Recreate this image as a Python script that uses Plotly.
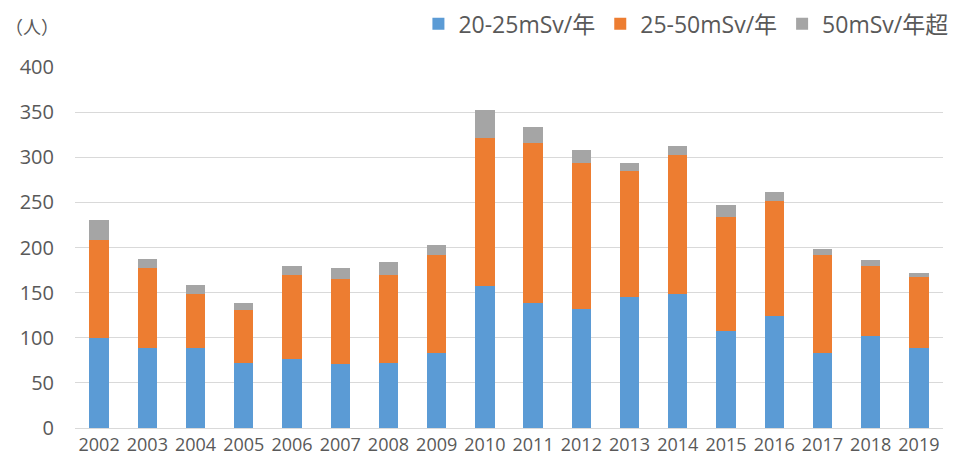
import plotly.graph_objects as go

years = [str(y) for y in range(2002, 2020)]
dose_20_25 = [100, 89, 89, 72, 77, 71, 72, 83, 157, 139, 132, 145, 148, 107, 124, 83, 102, 89]
dose_25_50 = [108, 88, 60, 59, 92, 94, 97, 109, 164, 177, 162, 140, 155, 127, 127, 109, 77, 78]
dose_over_50 = [22, 10, 10, 8, 10, 12, 15, 11, 31, 17, 14, 9, 10, 13, 10, 6, 7, 5]

series_names = ["20-25mSv/年", "25-50mSv/年", "50mSv/年超"]
series_colors = ["#5B9BD5", "#ED7D31", "#A5A5A5"]
y_ticks = [0, 50, 100, 150, 200, 250, 300, 350, 400]

FONT = "Open Sans, Noto Sans CJK JP, sans-serif"
TEXT = "#595959"

fig = go.Figure()
for name, vals, color in zip(series_names, [dose_20_25, dose_25_50, dose_over_50], series_colors):
    fig.add_trace(go.Bar(x=years, y=vals, name=name, marker=dict(color=color, line=dict(width=0))))

fig.update_layout(
    barmode="stack",
    bargap=0.6,
    width=953,
    height=461,
    margin=dict(l=75, r=10, t=67, b=33, autoexpand=False),
    paper_bgcolor="white",
    plot_bgcolor="white",
    font=dict(family=FONT, color=TEXT),
    legend=dict(
        orientation="h",
        x=1.012, xanchor="right",
        y=1.12, yanchor="middle",
        font=dict(size=23, color=TEXT, family=FONT),
        traceorder="normal",
        itemwidth=30,
        bgcolor="rgba(0,0,0,0)",
    ),
    xaxis=dict(
        tickfont=dict(size=18, color=TEXT),
        showgrid=False,
        showline=True,
        linecolor="#D9D9D9",
        linewidth=1,
        ticks="",
        automargin=False,
    ),
    yaxis=dict(
        range=[0, 400],
        tickvals=y_ticks,
        tickfont=dict(size=20, color=TEXT),
        showgrid=True,
        gridcolor="#D9D9D9",
        gridwidth=1,
        zeroline=False,
        ticks="",
        ticklabelstandoff=20,
        automargin=False,
    ),
    annotations=[
        dict(
            text="（人）", xref="paper", yref="paper",
            x=-0.083, y=1.11, xanchor="left", yanchor="middle",
            showarrow=False, font=dict(size=18, color=TEXT, family=FONT),
        )
    ],
)

fig.write_html("out.html")
